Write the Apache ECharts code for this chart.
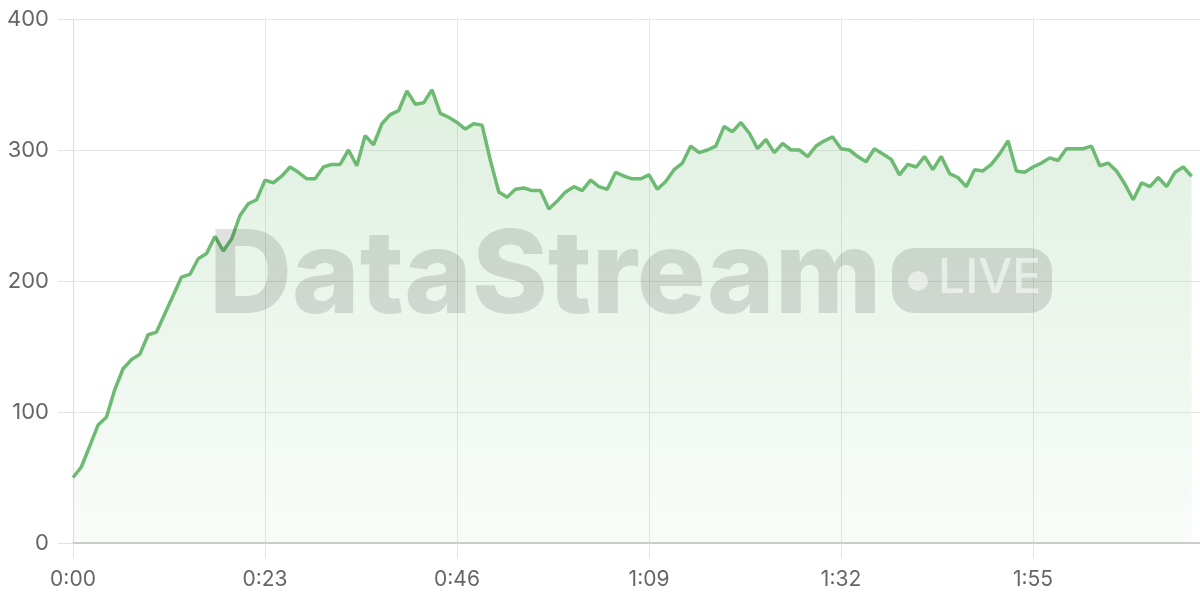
<!DOCTYPE html>
<html>
<head>
<meta charset="utf-8">
<script src="https://cdn.jsdelivr.net/npm/echarts@6/dist/echarts.min.js"></script>
<style>
html,body{margin:0;padding:0;background:#fff;}
#chart{width:1200px;height:600px;}
</style>
</head>
<body>
<div id="chart"></div>
<script>
// Values sampled once per second
const values = [50,58,74,90,96,117,133,140,144,159,161,175,189,203,205,217,221,234,223,232,
250,259,262,277,275,280,287,283,278,278,287,289,289,300,288,311,304,320,327,330,
345,335,336,346,328,325,321,316,320,319,292,268,264,270,271,269,269,255,261,268,
272,269,277,272,270,283,280,278,278,281,270,276,285,290,303,298,300,303,318,314,
321,313,301,308,298,305,300,300,295,303,307,310,301,300,295,291,301,297,293,281,
289,287,295,285,295,282,279,272,285,284,289,297,307,284,283,287,290,294,292,301,
301,301,303,288,290,284,274,262,275,272,279,272,283,287,280];
const seconds = values.map((v, i) => i);
const xTickSeconds = [0, 23, 46, 69, 92, 115];
const yTicks = [0, 100, 200, 300, 400];
const watermarkText = 'DataStream';
const badgeText = 'LIVE';

function fmt(s) {
  const m = Math.floor(s / 60);
  const ss = s % 60;
  return m + ':' + (ss < 10 ? '0' : '') + ss;
}

const chart = echarts.init(document.getElementById('chart'));
const labelColor = '#666';
const gridColor = '#e6e6e6';
const wm = 'rgba(0,0,0,0.12)';

chart.setOption({
  animation: false,
  grid: { left: 73, right: 0, top: 19, bottom: 57 },
  xAxis: {
    type: 'value', min: 0, max: 135, interval: 23,
    axisLine: { show: true, lineStyle: { color: '#cccccc', width: 2 } },
    axisTick: { show: true, length: 15, lineStyle: { color: '#e2e2e2' } },
    splitLine: { show: true, lineStyle: { color: gridColor, width: 1 } },
    axisLabel: {
      color: labelColor, fontFamily: 'Inter', fontSize: 21, margin: 26,
      showMaxLabel: false,
      formatter: v => xTickSeconds.indexOf(v) >= 0 ? fmt(v) : ''
    }
  },
  yAxis: {
    type: 'value', min: yTicks[0], max: yTicks[yTicks.length - 1], interval: 100,
    axisLine: { show: true, lineStyle: { color: '#dddddd', width: 1 } },
    axisTick: { show: true, length: 15, lineStyle: { color: '#e2e2e2' } },
    splitLine: { show: true, lineStyle: { color: gridColor, width: 1 } },
    axisLabel: { color: labelColor, fontFamily: 'Inter', fontSize: 22, margin: 24 }
  },
  series: [{
    type: 'line',
    data: seconds.map((s, i) => [s, values[i]]),
    symbol: 'none',
    smooth: false,
    lineStyle: { color: '#6dba72', width: 3.5 },
    itemStyle: { color: '#6dba72' },
    areaStyle: {
      color: new echarts.graphic.LinearGradient(0, 0, 0, 1, [
        { offset: 0, color: 'rgba(112,187,117,0.32)' },
        { offset: 1, color: 'rgba(112,187,117,0.06)' }
      ]),
      origin: 'start'
    },
    z: 2
  }],
  graphic: [
    {
      type: 'text', z: 100, left: 209, top: 221,
      style: { text: watermarkText, font: '800 115px Inter', fill: wm }
    },
    {
      type: 'rect', z: 100, shape: { x: 892, y: 248, width: 160, height: 65, r: 22 },
      style: { fill: wm }
    },
    {
      type: 'circle', z: 101, shape: { cx: 918, cy: 281, r: 10 },
      style: { fill: 'rgba(255,255,255,0.55)' }
    },
    {
      type: 'text', z: 101, left: 938, top: 255,
      style: { text: badgeText, font: '500 48px Inter', fill: 'rgba(255,255,255,0.55)' }
    }
  ]
});
</script>
</body>
</html>
